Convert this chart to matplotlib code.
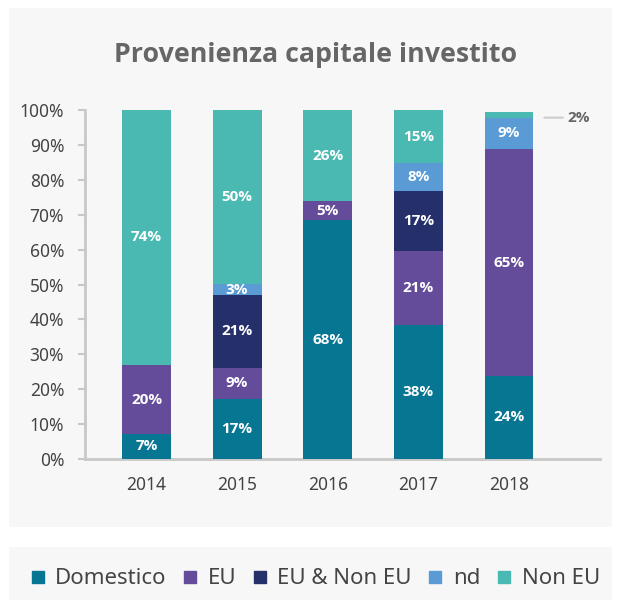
import matplotlib
matplotlib.use("Agg")
import matplotlib.pyplot as plt
from matplotlib.patches import Rectangle
from matplotlib.lines import Line2D
import numpy as np

years = ["2014", "2015", "2016", "2017", "2018"]
series_names = ["Domestico", "EU", "EU & Non EU", "nd", "Non EU"]
domestico = [7.2, 17.2, 68.4, 38.4, 23.8]
eu = [19.6, 8.9, 5.4, 21.2, 65.0]
eu_non_eu = [0.0, 20.9, 0.0, 17.3, 0.0]
nd = [0.0, 3.1, 0.0, 7.9, 9.0]
non_eu = [73.6, 49.9, 26.2, 15.2, 1.6]
colors = ["#077693", "#654c9a", "#25306a", "#5a9bd5", "#4ab9b2"]
yticks = [0, 10, 20, 30, 40, 50, 60, 70, 80, 90, 100]

W, H = 619, 600
fig = plt.figure(figsize=(W / 100, H / 100), dpi=100)
fig.patch.set_facecolor("white")

bg = "#f7f7f7"
fig.add_artist(Rectangle((9 / W, 1 - 527 / H), (612 - 9) / W, (527 - 8) / H,
                         transform=fig.transFigure, facecolor=bg, edgecolor="none", zorder=0))
fig.add_artist(Rectangle((9 / W, 0), (612 - 9) / W, (600 - 547) / H,
                         transform=fig.transFigure, facecolor=bg, edgecolor="none", zorder=0))

ax = fig.add_axes([85 / W, 1 - 459 / H, (600 - 85) / W, (459 - 110) / H])
ax.set_facecolor("none")

x = np.arange(len(years))
data = [domestico, eu, eu_non_eu, nd, non_eu]
bottom = np.zeros(len(years))
for name, vals, col in zip(series_names, data, colors):
    vals = np.array(vals)
    ax.bar(x, vals, width=0.54, bottom=bottom, color=col, label=name, zorder=2)
    for xi, v, b in zip(x, vals, bottom):
        if v >= 2.5:
            ax.text(xi, b + v / 2, f"{v:.0f}%", ha="center", va="center", color="white",
                    fontsize=11, fontweight="bold", family="Open Sans", zorder=3)
    bottom = bottom + vals

top2018 = bottom[4]
ax.annotate(f"{non_eu[4]:.0f}%", xy=(4 + 0.39, top2018 - non_eu[4] / 2 - 0.8),
            xytext=(4 + 0.64, top2018 - non_eu[4] / 2 - 0.8),
            ha="left", va="center", fontsize=11, fontweight="bold", color="#666666",
            family="Open Sans", annotation_clip=False,
            arrowprops=dict(arrowstyle="-", color="#cccccc", lw=1.5, shrinkA=1, shrinkB=0))

ax.set_xlim(-0.679, 5.004)
ax.set_ylim(0, 100)
ax.set_yticks(yticks)
ax.set_yticklabels([f"{t}%" for t in yticks])
ax.set_xticks(x)
ax.set_xticklabels(years)
for s in ["top", "right"]:
    ax.spines[s].set_visible(False)
for s in ["left", "bottom"]:
    ax.spines[s].set_color("#c8c8c8")
    ax.spines[s].set_linewidth(2)
    ax.spines[s].set_zorder(1)
ax.tick_params(axis="y", length=5, width=1.5, color="#c8c8c8", labelsize=12.5,
               labelcolor="#444444", pad=10)
ax.tick_params(axis="x", length=0, labelsize=12.5, labelcolor="#444444", pad=12)
for lab in ax.get_xticklabels() + ax.get_yticklabels():
    lab.set_family("Noto Sans")

fig.text(316 / W, 1 - 55 / H, "Provenienza capitale investito", ha="center", va="center",
         fontsize=19.3, fontweight="bold", color="#666666", family="Open Sans")

handles = [Line2D([0], [0], marker="s", linestyle="none", markersize=8,
                  markerfacecolor=c, markeredgecolor=c) for c in colors]
leg = fig.legend(handles, series_names, loc="center left", bbox_to_anchor=(27.5 / W, 1 - 579 / H),
                 ncol=5, frameon=False, fontsize=16, handletextpad=0.34, columnspacing=0.61,
                 handlelength=0.9, borderpad=0, borderaxespad=0)
for t in leg.get_texts():
    t.set_color("#444444")
    t.set_family("Noto Sans")

fig.savefig("out.png", dpi=100, facecolor="white")
